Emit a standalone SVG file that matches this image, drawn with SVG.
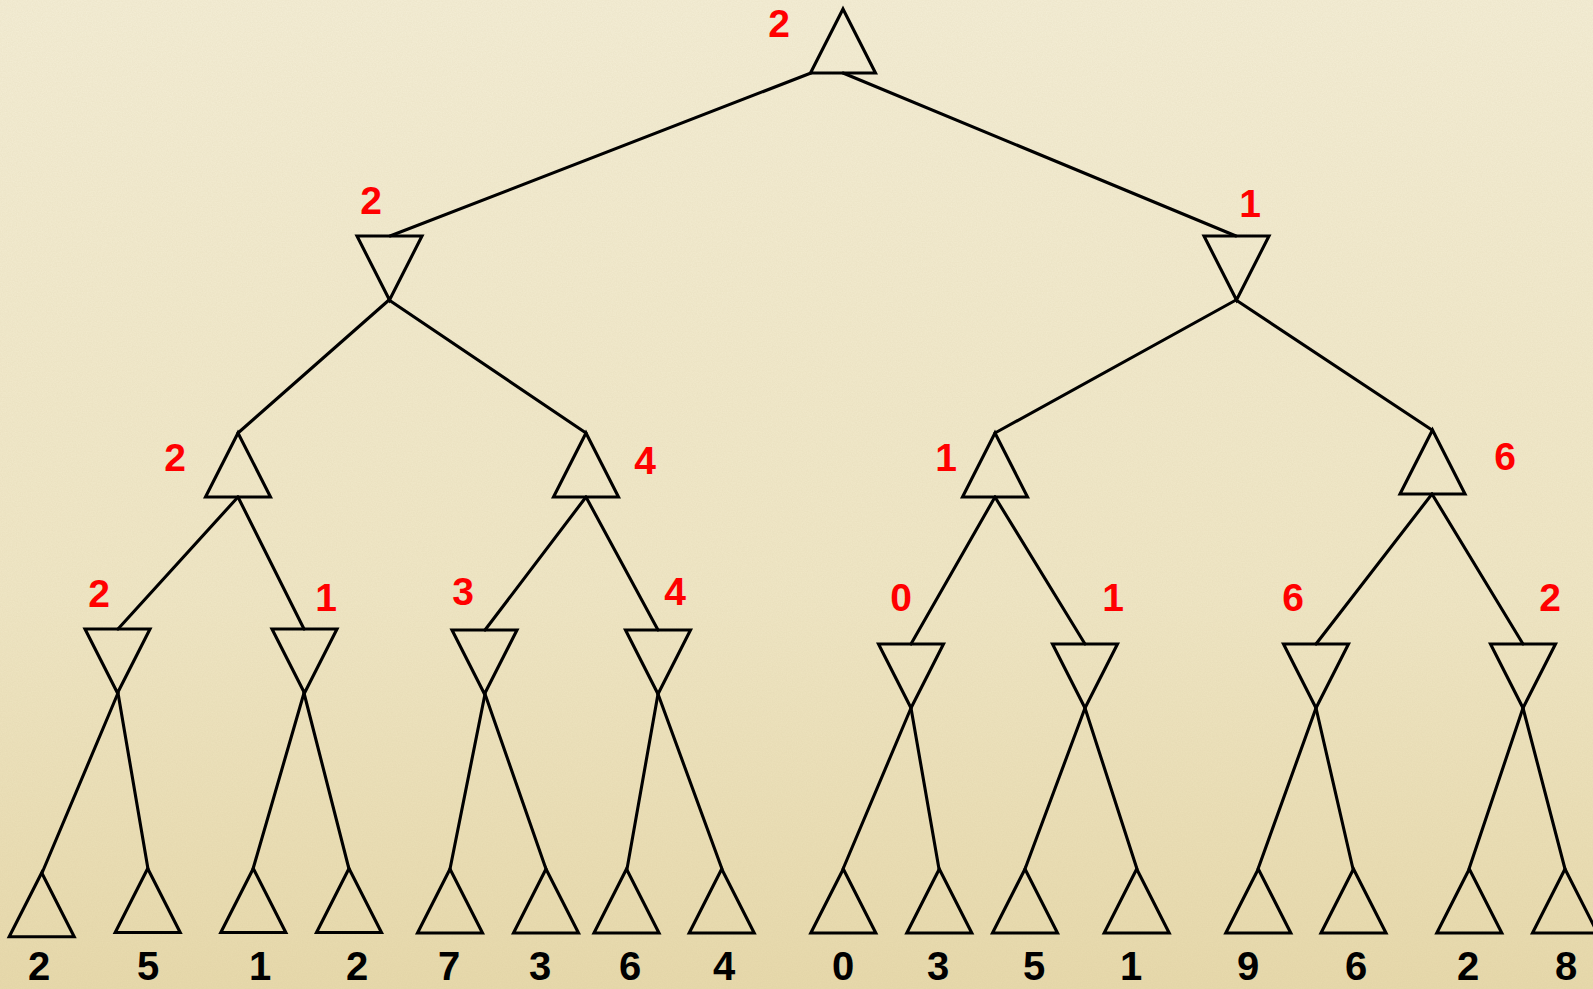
<svg xmlns="http://www.w3.org/2000/svg" width="1593" height="989" viewBox="0 0 1593 989">
  <style>
    .edge { stroke: #000; stroke-width: 3.1; fill: none; stroke-linecap: round; }
    .tri { stroke: #000; stroke-width: 3.1; fill: none; stroke-linejoin: miter; }
    .val { font-family: "Liberation Sans", Arial, sans-serif; font-weight: bold; font-size: 39px; fill: #FF0000; text-anchor: middle; }
    .leaf-val { font-family: "Liberation Sans", Arial, sans-serif; font-weight: bold; font-size: 40px; fill: #000; text-anchor: middle; }
  </style>
  <defs>
    <linearGradient id="paper" x1="0" y1="0" x2="0" y2="1">
      <stop offset="0" stop-color="#F4EED6"/>
      <stop offset="0.6" stop-color="#F0E7C6"/>
      <stop offset="1" stop-color="#E8DAAC"/>
    </linearGradient>
    <filter id="grain" x="0" y="0" width="100%" height="100%">
      <feTurbulence type="fractalNoise" baseFrequency="0.8" numOctaves="2" seed="3"/>
      <feColorMatrix type="matrix" values="0 0 0 0 0.55  0 0 0 0 0.45  0 0 0 0 0.25  0 0 0 0.16 0"/>
    </filter>
    <!-- MAX node: upward triangle, MIN node: downward triangle -->
    <path id="up" d="M0,0 L32.5,64 L-32.5,64 Z"/>
    <path id="down" d="M-32.5,0 L32.5,0 L0,64 Z"/>
  </defs>

  <rect width="1593" height="989" fill="url(#paper)"/>
  <rect width="1593" height="989" filter="url(#grain)"/>

  <g id="connectors">
    <!-- root to level 1 -->
    <line class="edge" x1="811" y1="73" x2="390" y2="236"/>
    <line class="edge" x1="843" y1="73" x2="1236" y2="236"/>
    <!-- level 1 to level 2 -->
    <line class="edge" x1="389" y1="300" x2="238" y2="433"/>
    <line class="edge" x1="389" y1="300" x2="586" y2="433"/>
    <line class="edge" x1="1236" y1="300" x2="995" y2="433"/>
    <line class="edge" x1="1236" y1="300" x2="1432" y2="430"/>
    <!-- level 2 to level 3 -->
    <line class="edge" x1="238" y1="497" x2="118" y2="629"/>
    <line class="edge" x1="238" y1="497" x2="304" y2="629"/>
    <line class="edge" x1="586" y1="497" x2="485" y2="630"/>
    <line class="edge" x1="586" y1="497" x2="658" y2="630"/>
    <line class="edge" x1="995" y1="497" x2="911" y2="644"/>
    <line class="edge" x1="995" y1="497" x2="1085" y2="644"/>
    <line class="edge" x1="1432" y1="494" x2="1316" y2="644"/>
    <line class="edge" x1="1432" y1="494" x2="1523" y2="644"/>
    <!-- level 3 to leaves -->
    <line class="edge" x1="118" y1="693" x2="42" y2="873"/>
    <line class="edge" x1="118" y1="693" x2="148" y2="869"/>
    <line class="edge" x1="304" y1="693" x2="253" y2="869"/>
    <line class="edge" x1="304" y1="693" x2="349" y2="869"/>
    <line class="edge" x1="485" y1="694" x2="450" y2="869"/>
    <line class="edge" x1="485" y1="694" x2="546" y2="869"/>
    <line class="edge" x1="658" y1="694" x2="627" y2="869"/>
    <line class="edge" x1="658" y1="694" x2="722" y2="869"/>
    <line class="edge" x1="911" y1="708" x2="843" y2="869"/>
    <line class="edge" x1="911" y1="708" x2="939" y2="869"/>
    <line class="edge" x1="1085" y1="708" x2="1025" y2="869"/>
    <line class="edge" x1="1085" y1="708" x2="1137" y2="869"/>
    <line class="edge" x1="1316" y1="708" x2="1258" y2="869"/>
    <line class="edge" x1="1316" y1="708" x2="1353" y2="869"/>
    <line class="edge" x1="1523" y1="708" x2="1469" y2="869"/>
    <line class="edge" x1="1523" y1="708" x2="1565" y2="869"/>
  </g>

  <!-- root (MAX) -->
  <g id="n-root"><use href="#up" class="tri" x="843" y="9"/><text class="val" x="779" y="37">2</text></g>

  <!-- level 1 (MIN) -->
  <g id="n-L"><use href="#down" class="tri" x="389.5" y="236"/><text class="val" x="371" y="214">2</text></g>
  <g id="n-R"><use href="#down" class="tri" x="1236.5" y="236"/><text class="val" x="1250" y="217">1</text></g>

  <!-- level 2 (MAX) -->
  <g id="n-LL"><use href="#up" class="tri" x="238" y="433"/><text class="val" x="175" y="471">2</text></g>
  <g id="n-LR"><use href="#up" class="tri" x="586" y="433"/><text class="val" x="645" y="474">4</text></g>
  <g id="n-RL"><use href="#up" class="tri" x="995" y="433"/><text class="val" x="946" y="471">1</text></g>
  <g id="n-RR"><use href="#up" class="tri" x="1432.5" y="430"/><text class="val" x="1505" y="470">6</text></g>

  <!-- level 3 (MIN) -->
  <g id="n-LLL"><use href="#down" class="tri" x="117.5" y="629"/><text class="val" x="99" y="607">2</text></g>
  <g id="n-LLR"><use href="#down" class="tri" x="304.5" y="629"/><text class="val" x="326" y="611">1</text></g>
  <g id="n-LRL"><use href="#down" class="tri" x="484.5" y="630"/><text class="val" x="463" y="605">3</text></g>
  <g id="n-LRR"><use href="#down" class="tri" x="658" y="630"/><text class="val" x="675" y="605">4</text></g>
  <g id="n-RLL"><use href="#down" class="tri" x="911" y="644"/><text class="val" x="901" y="611">0</text></g>
  <g id="n-RLR"><use href="#down" class="tri" x="1085" y="644"/><text class="val" x="1113" y="611">1</text></g>
  <g id="n-RRL"><use href="#down" class="tri" x="1316" y="644"/><text class="val" x="1293" y="611">6</text></g>
  <g id="n-RRR"><use href="#down" class="tri" x="1523" y="644"/><text class="val" x="1550" y="611">2</text></g>

  <!-- leaves (MAX) -->
  <g id="leaf1"><use href="#up" class="tri" x="41.7" y="872.7"/><text class="leaf-val" x="39" y="980">2</text></g>
  <g id="leaf2"><use href="#up" class="tri" x="147.7" y="868.5"/><text class="leaf-val" x="148" y="980">5</text></g>
  <g id="leaf3"><use href="#up" class="tri" x="253.3" y="868.5"/><text class="leaf-val" x="260" y="980">1</text></g>
  <g id="leaf4"><use href="#up" class="tri" x="349" y="868.5"/><text class="leaf-val" x="357" y="980">2</text></g>
  <g id="leaf5"><use href="#up" class="tri" x="450" y="869"/><text class="leaf-val" x="449" y="980">7</text></g>
  <g id="leaf6"><use href="#up" class="tri" x="546" y="869"/><text class="leaf-val" x="540" y="980">3</text></g>
  <g id="leaf7"><use href="#up" class="tri" x="626.5" y="869"/><text class="leaf-val" x="630" y="980">6</text></g>
  <g id="leaf8"><use href="#up" class="tri" x="721.7" y="869"/><text class="leaf-val" x="724" y="980">4</text></g>
  <g id="leaf9"><use href="#up" class="tri" x="843.3" y="869"/><text class="leaf-val" x="843" y="980">0</text></g>
  <g id="leaf10"><use href="#up" class="tri" x="939.3" y="869"/><text class="leaf-val" x="938" y="980">3</text></g>
  <g id="leaf11"><use href="#up" class="tri" x="1025" y="869"/><text class="leaf-val" x="1034" y="980">5</text></g>
  <g id="leaf12"><use href="#up" class="tri" x="1136.7" y="869"/><text class="leaf-val" x="1131" y="980">1</text></g>
  <g id="leaf13"><use href="#up" class="tri" x="1258.3" y="869"/><text class="leaf-val" x="1248" y="980">9</text></g>
  <g id="leaf14"><use href="#up" class="tri" x="1353.5" y="869"/><text class="leaf-val" x="1356" y="980">6</text></g>
  <g id="leaf15"><use href="#up" class="tri" x="1469.3" y="869"/><text class="leaf-val" x="1468" y="980">2</text></g>
  <g id="leaf16"><use href="#up" class="tri" x="1565" y="869"/><text class="leaf-val" x="1566" y="980">8</text></g>
</svg>
